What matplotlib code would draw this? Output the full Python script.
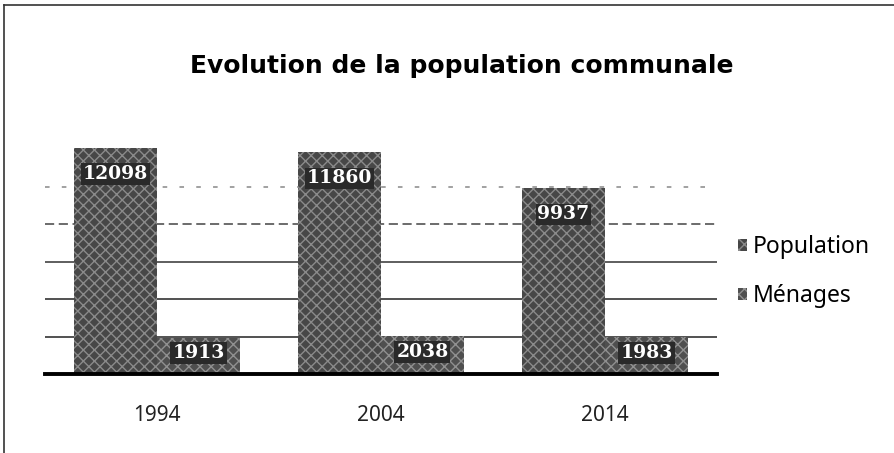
import matplotlib
matplotlib.use('Agg')
import matplotlib.pyplot as plt
import numpy as np
from matplotlib.lines import Line2D

# Données du graphique
annees = ['1994', '2004', '2014']
population = [12098, 11860, 9937]
menages = [1913, 2038, 1983]
series = ['Population', 'Ménages']

plt.rcParams['font.family'] = ['Noto Sans', 'DejaVu Sans']

fig = plt.figure(figsize=(8.94, 4.53), dpi=100)
ax = fig.add_axes([45 / 894, 79 / 453, 672 / 894, 262 / 453])

x = np.arange(len(annees))
larg = 0.37

# grille horizontale
for val, ls, col in [(2000, '-', '#222222'), (4000, '-', '#222222'), (6000, '-', '#333333'),
                     (8000, (0, (6, 3)), '#444444'), (10000, (0, (3, 8)), '#888888')]:
    ax.axhline(val, color=col, lw=1.1, ls=ls, zorder=0)

b1 = ax.bar(x - larg / 2, population, width=larg, color='#474747', edgecolor='#8a8a8a',
            hatch='xxx', lw=0, label=series[0], zorder=2)
b2 = ax.bar(x + larg / 2, menages, width=larg, color='#4f4f4f', edgecolor='#909090',
            hatch='xxx', lw=0, label=series[1], zorder=2)

# étiquettes de valeurs
style = dict(textcoords='offset points', ha='center', va='center', color='white',
             fontsize=13.5, fontweight='bold', family='DejaVu Serif', zorder=4,
             bbox=dict(boxstyle='square,pad=0.1', fc='#2a2a2a', ec='none'))
for rect, v in zip(b1, population):
    ax.annotate(str(v), (rect.get_x() + rect.get_width() / 2, v), xytext=(0, -19), **style)
for rect, v in zip(b2, menages):
    ax.annotate(str(v), (rect.get_x() + rect.get_width() / 2, v / 2), xytext=(0, 2), **style)

ax.set_xlim(-0.5, 2.5)
ax.set_ylim(0, 14000)
ax.set_xticks(x)
ax.set_xticklabels(annees, fontsize=15, color='#222222')
ax.tick_params(axis='x', length=0, pad=22)
ax.set_yticks([])
for s in ['top', 'right', 'left']:
    ax.spines[s].set_visible(False)
ax.spines['bottom'].set_linewidth(2.8)
ax.spines['bottom'].set_color('black')
ax.spines['bottom'].set_zorder(5)

fig.text(462 / 894, 1 - 66 / 453, 'Evolution de la population communale', ha='center',
         va='center', fontsize=18, fontweight='bold', family='DejaVu Sans')

fig.legend(handles=[b1, b2], labels=series, loc='upper left',
           bbox_to_anchor=(729 / 894, 1 - 226 / 453), frameon=False, fontsize=16.5,
           handlelength=0.4, handleheight=0.4, handletextpad=0.25, labelspacing=1.1,
           borderaxespad=0)

# cadre du graphique
fig.add_artist(Line2D([0.004, 0.004], [0, 0.99], color='#333333', lw=1.2))
fig.add_artist(Line2D([0.004, 1], [0.99, 0.99], color='#333333', lw=1.2))

fig.savefig('out.png', dpi=100)
